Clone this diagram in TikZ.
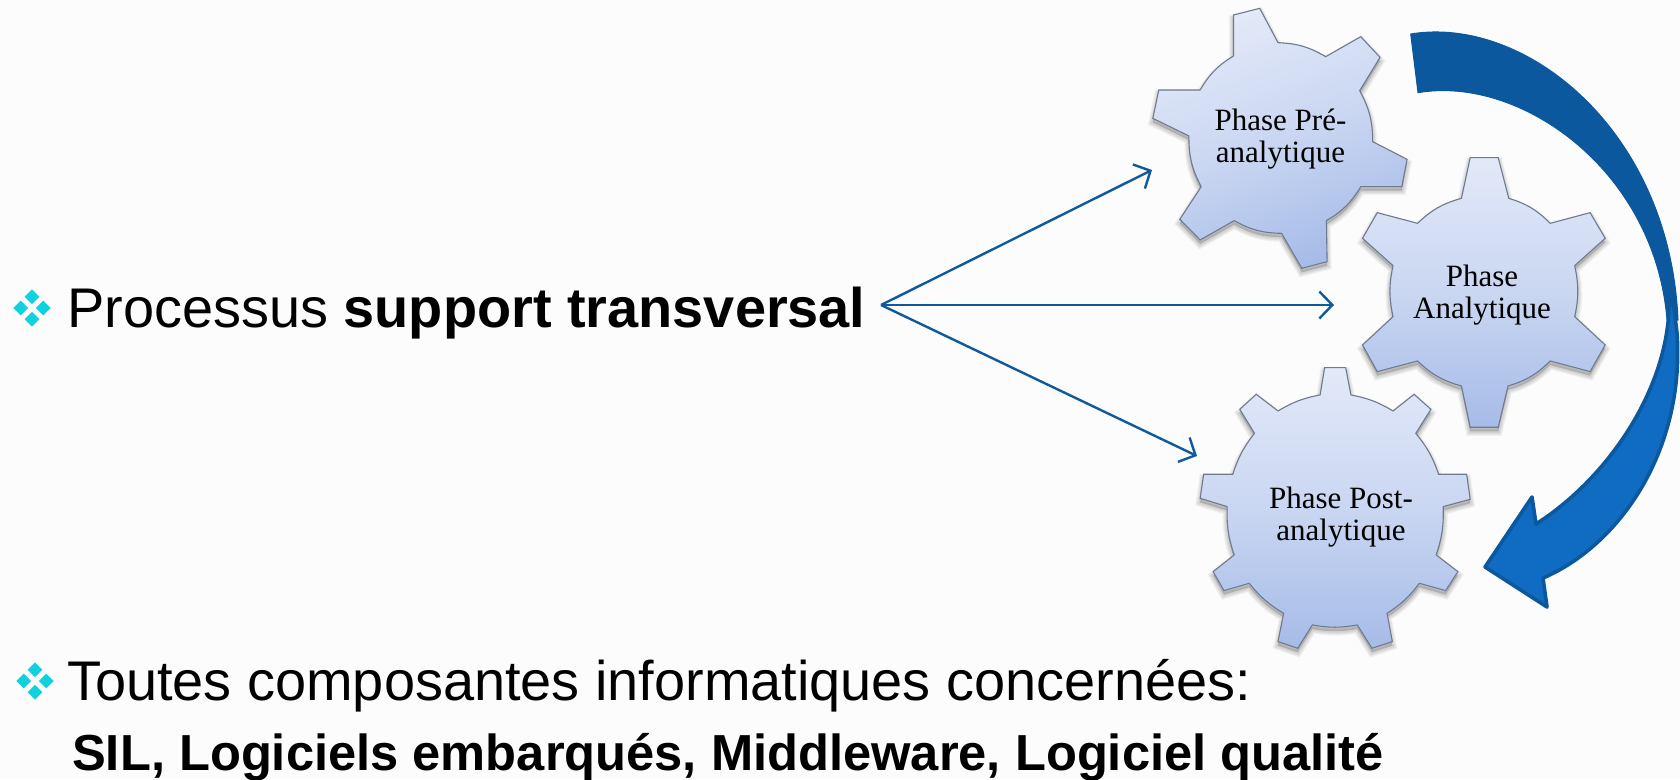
\documentclass[tikz,border=0pt]{standalone}
\usepackage{fontspec}
\setmainfont{Liberation Sans}
\newfontfamily\gearfont{Liberation Serif}
\usetikzlibrary{arrows.meta}
\definecolor{linkblue}{HTML}{0F5A9C}
\definecolor{darkblue}{HTML}{0C589E}
\definecolor{midblue}{HTML}{106CC2}
\definecolor{bullet}{HTML}{0FD2DE}
\definecolor{gearedge}{HTML}{6E7A8E}
\definecolor{gearlight}{HTML}{E2E9F8}
\definecolor{geardark}{HTML}{A6BBE8}
\newcommand{\gearA}{(295,45)--(370,25)--(422,128) to[bend left=14] (558,170)--(658,110)--(713,172)--(655,272) to[bend left=14] (692,425)--(790,478)--(775,560)--(658,560) to[bend left=14] (560,662)--(562,785)--(490,805)--(432,700) to[bend left=14] (297,662)--(200,720)--(142,658)--(203,560) to[bend left=14] (168,408)--(65,355)--(82,270)--(200,270) to[bend left=14] (295,168)--cycle}
\newcommand{\gearB}{(945,595)--(970,473)--(1050,473)--(1080,595) to[bend left=14] (1198,670)--(1312,638)--(1355,715)--(1268,797) to[bend left=12] (1268,950)--(1355,1035)--(1312,1115)--(1198,1083) to[bend left=14] (1078,1158)--(1050,1282)--(970,1282)--(945,1158) to[bend left=14] (820,1083)--(705,1115)--(663,1035)--(750,950) to[bend left=12] (750,797)--(663,715)--(705,638)--(820,670) to[bend left=14] (945,595)--cycle}
\newcommand{\gearC}{(542,1185)--(555,1103)--(615,1103)--(630,1185) to[bend left=10] (750,1233)--(810,1183)--(858,1228)--(815,1300) to[bend left=10] (880,1423)--(960,1423)--(970,1498)--(893,1520) to[bend left=10] (873,1665)--(935,1715)--(900,1772)--(825,1750) to[bend left=10] (733,1840)--(748,1925)--(690,1945)--(648,1875) to[bend left=10] (520,1875)--(478,1945)--(422,1925)--(438,1840) to[bend left=10] (340,1750)--(268,1772)--(237,1715)--(297,1665) to[bend left=10] (277,1520)--(200,1495)--(210,1423)--(293,1423) to[bend left=10] (355,1300)--(313,1228)--(360,1183)--(422,1233) to[bend left=10] (542,1185)--cycle}
\tikzset{
  label text/.style={inner sep=0pt,anchor=base west,font=\fontsize{55.9}{56}\selectfont},
  gear text/.style={inner sep=0pt,align=center,font=\gearfont\fontsize{31}{32}\selectfont},
  link/.style={draw=linkblue,line width=2.4pt,-{Straight Barb[length=13pt,width=27pt,line width=2.4pt]}},
  gear body/.style={draw=gearedge,line width=1.1pt,shade,top color=gearlight,bottom color=geardark,middle color=gearlight!60!geardark},
  soft/.style={fill=black,opacity=0.045,draw=black,draw opacity=0.045,line width=#1},
  zoomed/.style={x=0.3507pt,y=-0.3333pt,shift={(1130pt,0pt)}},
  dot/.style={fill=bullet,draw=none}
}
\newcommand{\bulletmark}[2]{%
  \foreach \dx/\dy in {0/-11.3,11.3/0,0/11.3,-11.3/0}{
    \fill[dot] (#1+\dx,#2+\dy-7.4) -- (#1+\dx+7.4,#2+\dy) -- (#1+\dx,#2+\dy+7.4) -- (#1+\dx-7.4,#2+\dy) -- cycle;}}
\begin{document}
\begin{tikzpicture}[x=1pt,y=-1pt]
\useasboundingbox (0,0) rectangle (1680,779);
\fill[fill=white!99!black] (0,0) rectangle (1680,779);

\bulletmark{32}{308}
\bulletmark{35}{681}

\node[label text] (proc) at (67,327) {Processus \textbf{support transversal}};
\node[label text] (toutes) at (67,700) {Toutes composantes informatiques concernées:};
\node[label text,font=\bfseries\fontsize{50.65}{51}\selectfont] (sil) at (72,770) {SIL, Logiciels embarqués, Middleware, Logiciel qualité};

% curved arrow, back band
\filldraw[fill=darkblue,draw=darkblue,line width=1pt,line join=round] (1410.7,34) .. controls (1525,15) and (1670,130) .. (1678,320) -- (1667,320) .. controls (1655,170) and (1520,75) .. (1418,92.7) -- cycle;
% front band and head
\filldraw[fill=midblue,draw=darkblue,line width=3.6pt,line join=round] (1672,292) -- (1669,310) .. controls (1665,395) and (1605,480) .. (1536,524) -- (1532,497) -- (1485,567) -- (1547,607) -- (1543,578) .. controls (1620,545) and (1685,450) .. (1677,333) -- cycle;
% gears
\begin{scope}[zoomed]
\foreach \s in {9,7,5,3}{
  \path[soft=\s pt,shift={(0,12)}] \gearC;
  \path[soft=\s pt,shift={(0,12)}] \gearB;
  \path[soft=\s pt,shift={(0,12)}] \gearA;
}
\path[gear body,shading angle=20] \gearA;
\path[gear body] \gearB;
\path[gear body] \gearC;
\end{scope}

\node[gear text] (pre) at (1280.5,139) {Phase Pré-\\analytique};
\node[gear text] (ana) at (1482,295) {Phase\\Analytique};
\node[gear text] (post) at (1341,517) {Phase Post-\\analytique};

\coordinate (src) at (881,305);
\coordinate (e1) at (1152,170);
\coordinate (e2) at (1334,305);
\coordinate (e3) at (1197,456);
\draw[link] (src) -- (e1);
\draw[link] (src) -- (e2);
\draw[link] (src) -- (e3);
\end{tikzpicture}
\end{document}
